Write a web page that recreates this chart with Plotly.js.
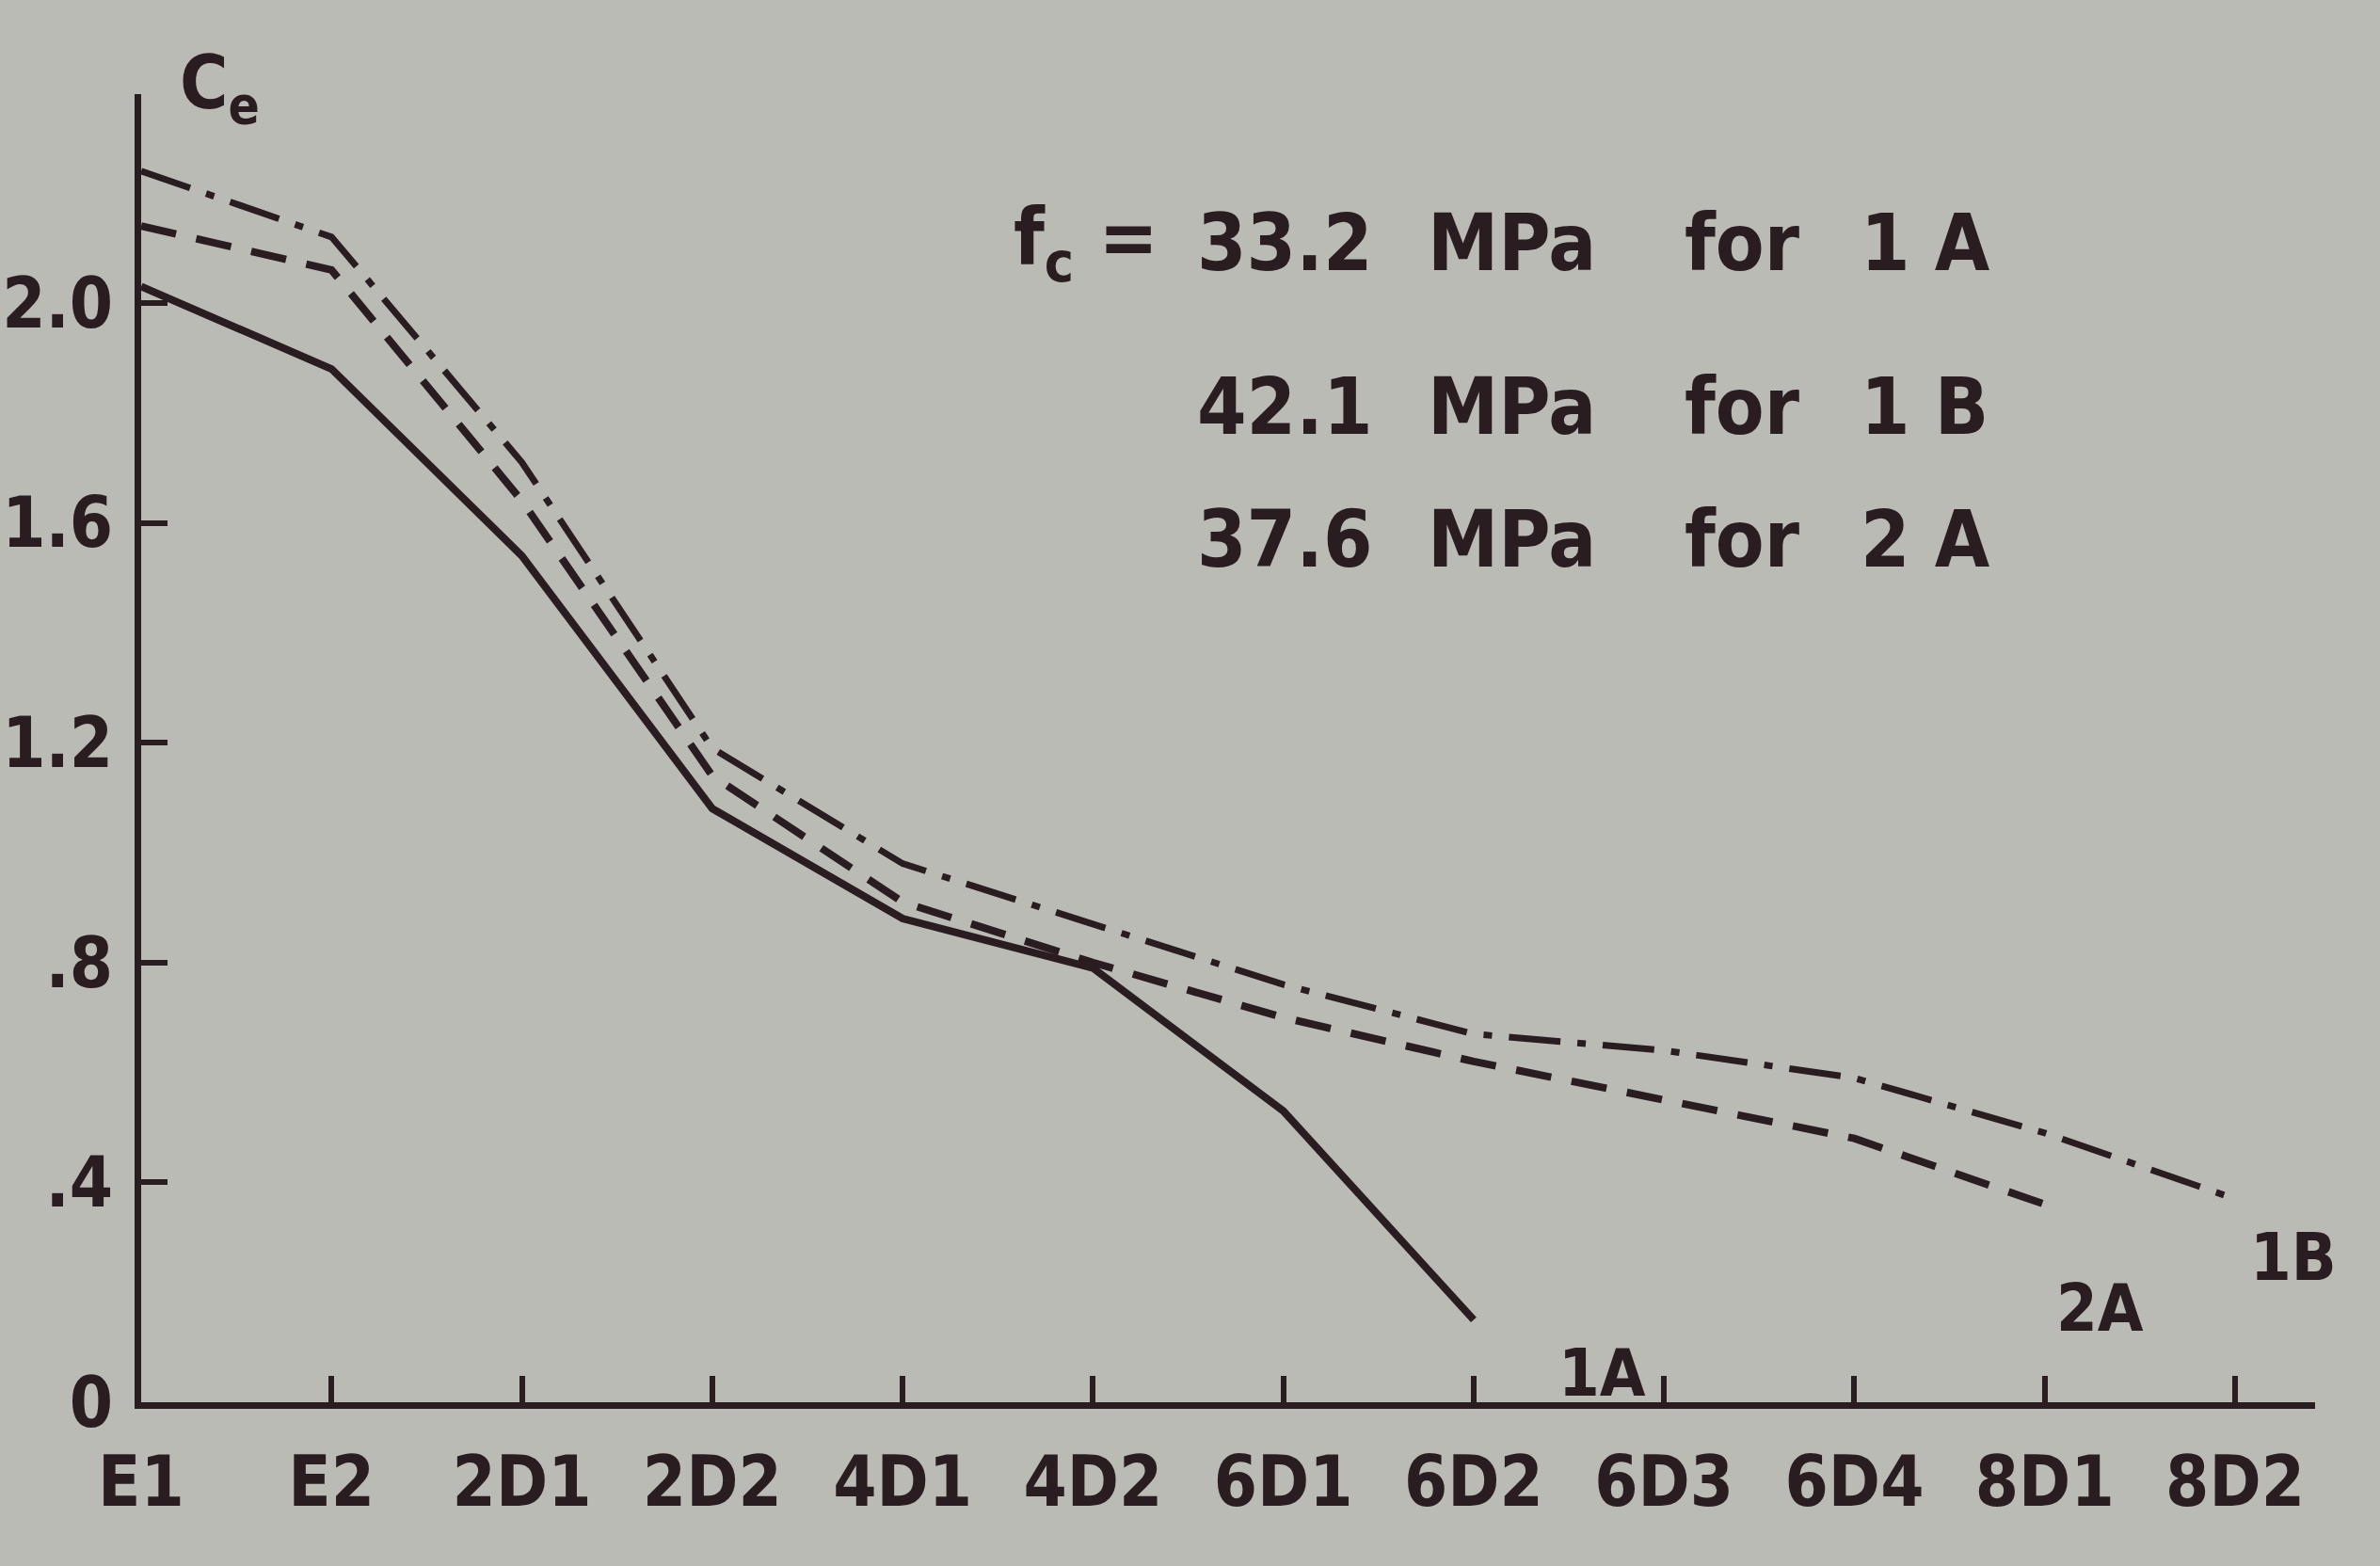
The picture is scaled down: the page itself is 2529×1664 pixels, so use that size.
<!DOCTYPE html>
<html>
<head>
<meta charset="utf-8">
<script src="https://cdn.plot.ly/plotly-3.0.1.min.js"></script>
<style>
  html, body { margin: 0; padding: 0; background: #bbbbb5; }
  #chart { width: 2529px; height: 1664px; }
</style>
</head>
<body>
<div id="chart"></div>
<script>
// ---- data ----
const categories = ["E1", "E2", "2D1", "2D2", "4D1", "4D2", "6D1", "6D2", "6D3", "6D4", "8D1", "8D2"];
const series1A = [2.03, 1.88, 1.54, 1.08, 0.88, 0.79, 0.53, 0.15];
const series2A = [2.14, 2.06, 1.64, 1.14, 0.91, 0.80, 0.70, 0.62, 0.55, 0.48, 0.36];
const series1B = [2.24, 2.12, 1.71, 1.19, 0.98, 0.87, 0.76, 0.67, 0.64, 0.59, 0.49, 0.37];
const yTickVals = [0, 0.4, 0.8, 1.2, 1.6, 2.0];
const yTickText = ["0", ".4", ".8", "1.2", "1.6", "2.0"];
const legendValues = ["33.2", "42.1", "37.6"];
const legendSeries = ["1 A", "1 B", "2 A"];
const seriesNames = ["1A", "2A", "1B"];

const INK = "#2a1d21";
const FONT = "DejaVu Sans Condensed, Liberation Sans Narrow, Arial Narrow, sans-serif";

const traces = [
  { x: categories.slice(0, series1A.length), y: series1A, name: "1A", mode: "lines",
    line: { color: INK, width: 8, dash: "solid" } },
  { x: categories.slice(0, series2A.length), y: series2A, name: "2A", mode: "lines",
    line: { color: INK, width: 8, dash: "38px,22px" } },
  { x: categories.slice(0, series1B.length), y: series1B, name: "1B", mode: "lines",
    line: { color: INK, width: 7, dash: "55px,18px,9px,18px" } }
];

function txt(text, x, y, xa, ya, size) {
  return { text: text, xref: "paper", yref: "paper", x: x, y: y, xanchor: xa, yanchor: ya,
           showarrow: false, font: { family: FONT, size: size, color: INK, weight: "bold" } };
}

const rowsY = [0.886, 0.761, 0.660];
const annotations = [
  txt("C<sub>e</sub>", 0.036, 1.005, "center", "middle", 78),
  txt("f<sub>c</sub> =", 0.469, rowsY[0], "right", "middle", 84)
];
for (let i = 0; i < legendValues.length; i++) {
  annotations.push(txt(legendValues[i], 0.567, rowsY[i], "right", "middle", 84));
  annotations.push(txt("MPa", 0.591, rowsY[i], "left", "middle", 84));
  annotations.push(txt("for", 0.709, rowsY[i], "left", "middle", 84));
  annotations.push(txt(legendSeries[i], 0.790, rowsY[i], "left", "middle", 84));
}
annotations.push(txt(seriesNames[0], 0.672, 0.022, "center", "middle", 70));
annotations.push(txt(seriesNames[1], 0.901, 0.072, "center", "middle", 70));
annotations.push(txt(seriesNames[2], 0.990, 0.111, "center", "middle", 70));

const layout = {
  width: 2529, height: 1664,
  paper_bgcolor: "#bbbbb5", plot_bgcolor: "#bbbbb5",
  margin: { l: 150, r: 69, t: 100, b: 174 },
  showlegend: false,
  font: { family: FONT, color: INK, size: 74, weight: "bold" },
  xaxis: {
    type: "category", categoryorder: "array", categoryarray: categories,
    range: [0, 11.42], showgrid: false, zeroline: false,
    showline: true, linecolor: INK, linewidth: 7,
    ticks: "inside", ticklen: 28, tickwidth: 6, tickcolor: INK,
    ticklabelstandoff: 14,
    tickfont: { family: FONT, size: 74, color: INK, weight: "bold" },
    fixedrange: true
  },
  yaxis: {
    range: [0, 2.38], showgrid: false, zeroline: false,
    showline: true, linecolor: INK, linewidth: 7,
    tickvals: yTickVals, ticktext: yTickText,
    ticks: "inside", ticklen: 28, tickwidth: 6, tickcolor: INK,
    ticklabelstandoff: 8,
    tickfont: { family: FONT, size: 74, color: INK, weight: "bold" },
    fixedrange: true
  },
  annotations: annotations
};

Plotly.newPlot("chart", traces, layout, { staticPlot: true, displayModeBar: false });
</script>
</body>
</html>
